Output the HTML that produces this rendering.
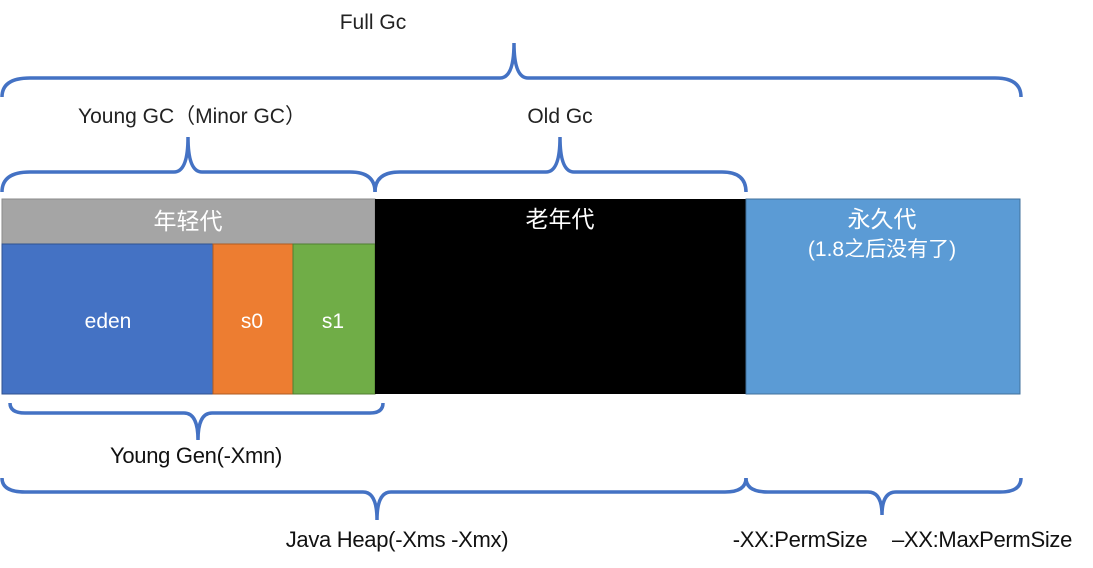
<!DOCTYPE html>
<html><head><meta charset="utf-8"><style>
html,body{margin:0;padding:0;background:#fff;}
svg{display:block;}
text{font-family:"Liberation Sans","Noto Sans CJK SC",sans-serif;}
</style></head><body>
<svg width="1093" height="568" viewBox="0 0 1093 568" xmlns="http://www.w3.org/2000/svg">
<g fill="none" stroke="#4472c4" stroke-width="3.5">
<path d="M2,97 Q2,78 30,78 L500,78 Q514,78 514,43 Q514,78 528,78 L995,78 Q1021,78 1021,97"/>
<path d="M2,192 Q2,172 30,172 L174,172 Q188,172 188,137 Q188,172 202,172 L350,172 Q375,172 375,192"/>
<path d="M375,192 Q375,172 400,172 L546,172 Q560,172 560,137 Q560,172 574,172 L722,172 Q746,172 746,192"/>
<path d="M10,403 Q10,413 25,413 L184,413 Q198,413 198,440 Q198,413 212,413 L370,413 Q383,413 383,403"/>
<path d="M2,478 Q2,492 25,492 L363,492 Q377,492 377,520 Q377,492 391,492 L725,492 Q746,492 746,478"/>
<path d="M746,478 Q746,492 768,492 L868,492 Q882,492 882,515 Q882,492 896,492 L1000,492 Q1021,492 1021,478"/>
</g>
<rect x="2" y="199" width="373" height="45" fill="#a5a5a5" stroke="#8a8a8a" stroke-width="1"/>
<rect x="2" y="244" width="211" height="150" fill="#4472c4" stroke="#2f528f" stroke-width="1"/>
<rect x="213" y="244" width="80" height="150" fill="#ed7d31" stroke="#ae5a21" stroke-width="1"/>
<rect x="293" y="244" width="82" height="150" fill="#70ad47" stroke="#507e32" stroke-width="1"/>
<rect x="375" y="199" width="371" height="195" fill="#000"/>
<rect x="746" y="199" width="274" height="195" fill="#5b9bd5" stroke="#41719c" stroke-width="1"/>
<g fill="#fff" text-anchor="middle">
<text x="188" y="229" font-size="23">年轻代</text>
<text x="560" y="227" font-size="23">老年代</text>
<text x="882" y="227" font-size="23">永久代</text>
<text x="882" y="256" font-size="21">(1.8之后没有了)</text>
<text x="108" y="328" font-size="21">eden</text>
<text x="252" y="328" font-size="21">s0</text>
<text x="333" y="328" font-size="21">s1</text>
</g>
<g fill="#222" text-anchor="middle" font-size="21">
<text x="373" y="29">Full Gc</text>
<text x="192" y="123">Young GC（Minor GC）</text>
<text x="560" y="123">Old Gc</text>
</g>
<g fill="#111" text-anchor="middle" font-size="22" letter-spacing="-0.3">
<text x="196" y="463">Young Gen(-Xmn)</text>
<text x="397" y="547">Java Heap(-Xms -Xmx)</text>
<text x="800" y="547">-XX:PermSize</text>
<text x="982" y="547">–XX:MaxPermSize</text>
</g>
</svg>
</body></html>
